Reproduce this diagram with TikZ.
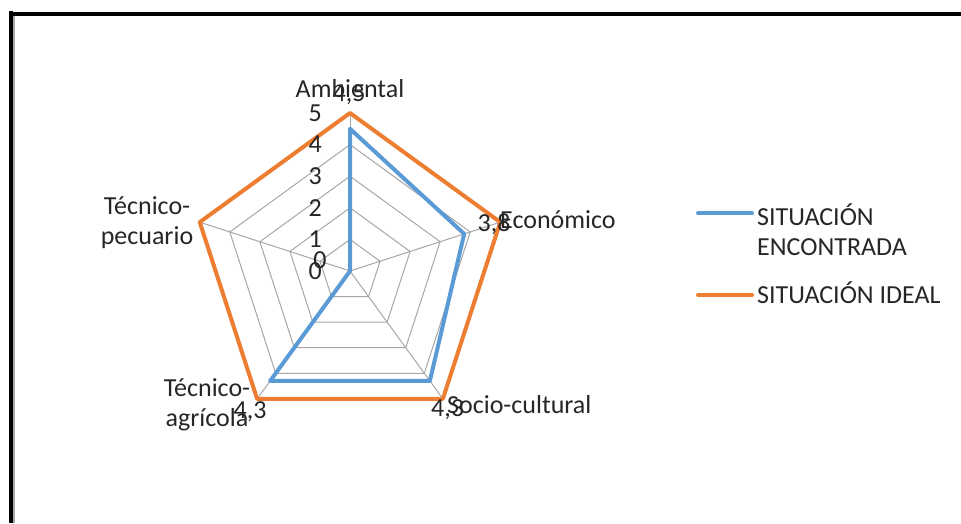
\documentclass[tikz,border=0pt]{standalone}
\usepackage{fontspec}
\setmainfont{Carlito}
\usetikzlibrary{calc}
\definecolor{foundblue}{HTML}{5B9BD5}
\definecolor{idealorange}{HTML}{ED7D31}
\definecolor{gridgray}{HTML}{A6A6A6}
\definecolor{txtgray}{HTML}{262626}
\tikzset{
    label text/.style={inner sep=0pt, text=txtgray, font=\fontsize{26}{30}\selectfont},
    gridline/.style={gridgray, line width=1pt},
    found/.style={foundblue, line width=4pt, line join=round},
    ideal/.style={idealorange, line width=4pt, line join=round}
}

\begin{document}
\begin{tikzpicture}[x=1pt, y=-1pt, every node/.style={label text}]
    \useasboundingbox (0,0) rectangle (961,523);
    % frame
    \draw[black, line width=2pt] (9,12.7) -- (961,12.7);
    \draw[black, line width=1.7pt] (9,15.2) -- (961,15.2);
    \draw[black, line width=4.3pt] (11.2,11) -- (11.2,523);
    \draw[black!35, line width=1.7pt] (14.2,16) -- (14.2,523);

    % radar grid and series
    \begin{scope}[shift={(350,271)}, yscale=-1]
        \coordinate (ctr) at (0,0);
        \foreach \k in {1,...,5}
            \draw[gridline] (90:{\k*31.6}) -- (18:{\k*31.6}) -- (-54:{\k*31.6}) -- (-126:{\k*31.6}) -- (162:{\k*31.6}) -- cycle;
        \foreach \a/\n in {90/amb,18/eco,-54/soc,-126/agr,162/pec} {
            \coordinate (\n) at (\a:158);
            \draw[gridline] (ctr) -- (\n);
        }
        \coordinate (fAmb) at (90:{4.5*31.6});
        \coordinate (fEco) at (18:{3.8*31.6});
        \coordinate (fSoc) at (-54:{4.3*31.6});
        \coordinate (fAgr) at (-126:{4.3*31.6});
        \draw[ideal] (amb) -- (eco) -- (soc) -- (agr) -- (pec) -- cycle;
        \draw[found] (fAmb) -- (fEco) -- (fSoc) -- (fAgr) -- (ctr) -- cycle;
    \end{scope}

    % axis ticks
    \foreach \v in {0,...,5}
        \node[anchor=base east] (tick\v) at (322, {271-\v*31.6+8.3}) {\v};

    % category labels
    \node[anchor=base] (catAmb) at (350,97) {Ambiental};
    \node[anchor=base west] (catEco) at (500,228) {Económico};
    \node[anchor=base west] (catSoc) at (447,413.5) {Socio-cultural};
    \node[align=center] (catAgr) at (207,405) {Técnico-\\agrícola};
    \node[align=center] (catPec) at (147,222.5) {Técnico-\\pecuario};

    % data labels
    \node[anchor=base] (valAmb) at (349,101.5) {4,5};
    \node[anchor=base] (valEco) at (494,231.5) {3,8};
    \node[anchor=base] (valSoc) at (447.5,416.5) {4,3};
    \node[anchor=base] (valAgr) at (250,418) {4,3};
    \node[anchor=base] (valPec) at (320,268) {0};

    % legend
    \coordinate (legA1) at (698,213.3);
    \coordinate (legA2) at (752,213.3);
    \coordinate (legB1) at (698,295);
    \coordinate (legB2) at (752,295);
    \draw[found, line cap=round] (legA1) -- (legA2);
    \draw[ideal, line cap=round] (legB1) -- (legB2);
    \node[align=left, anchor=west] (legFound) at (757,230) {SITUACIÓN\\ENCONTRADA};
    \node[anchor=base west] (legIdeal) at (757,303) {SITUACIÓN IDEAL};
\end{tikzpicture}
\end{document}
